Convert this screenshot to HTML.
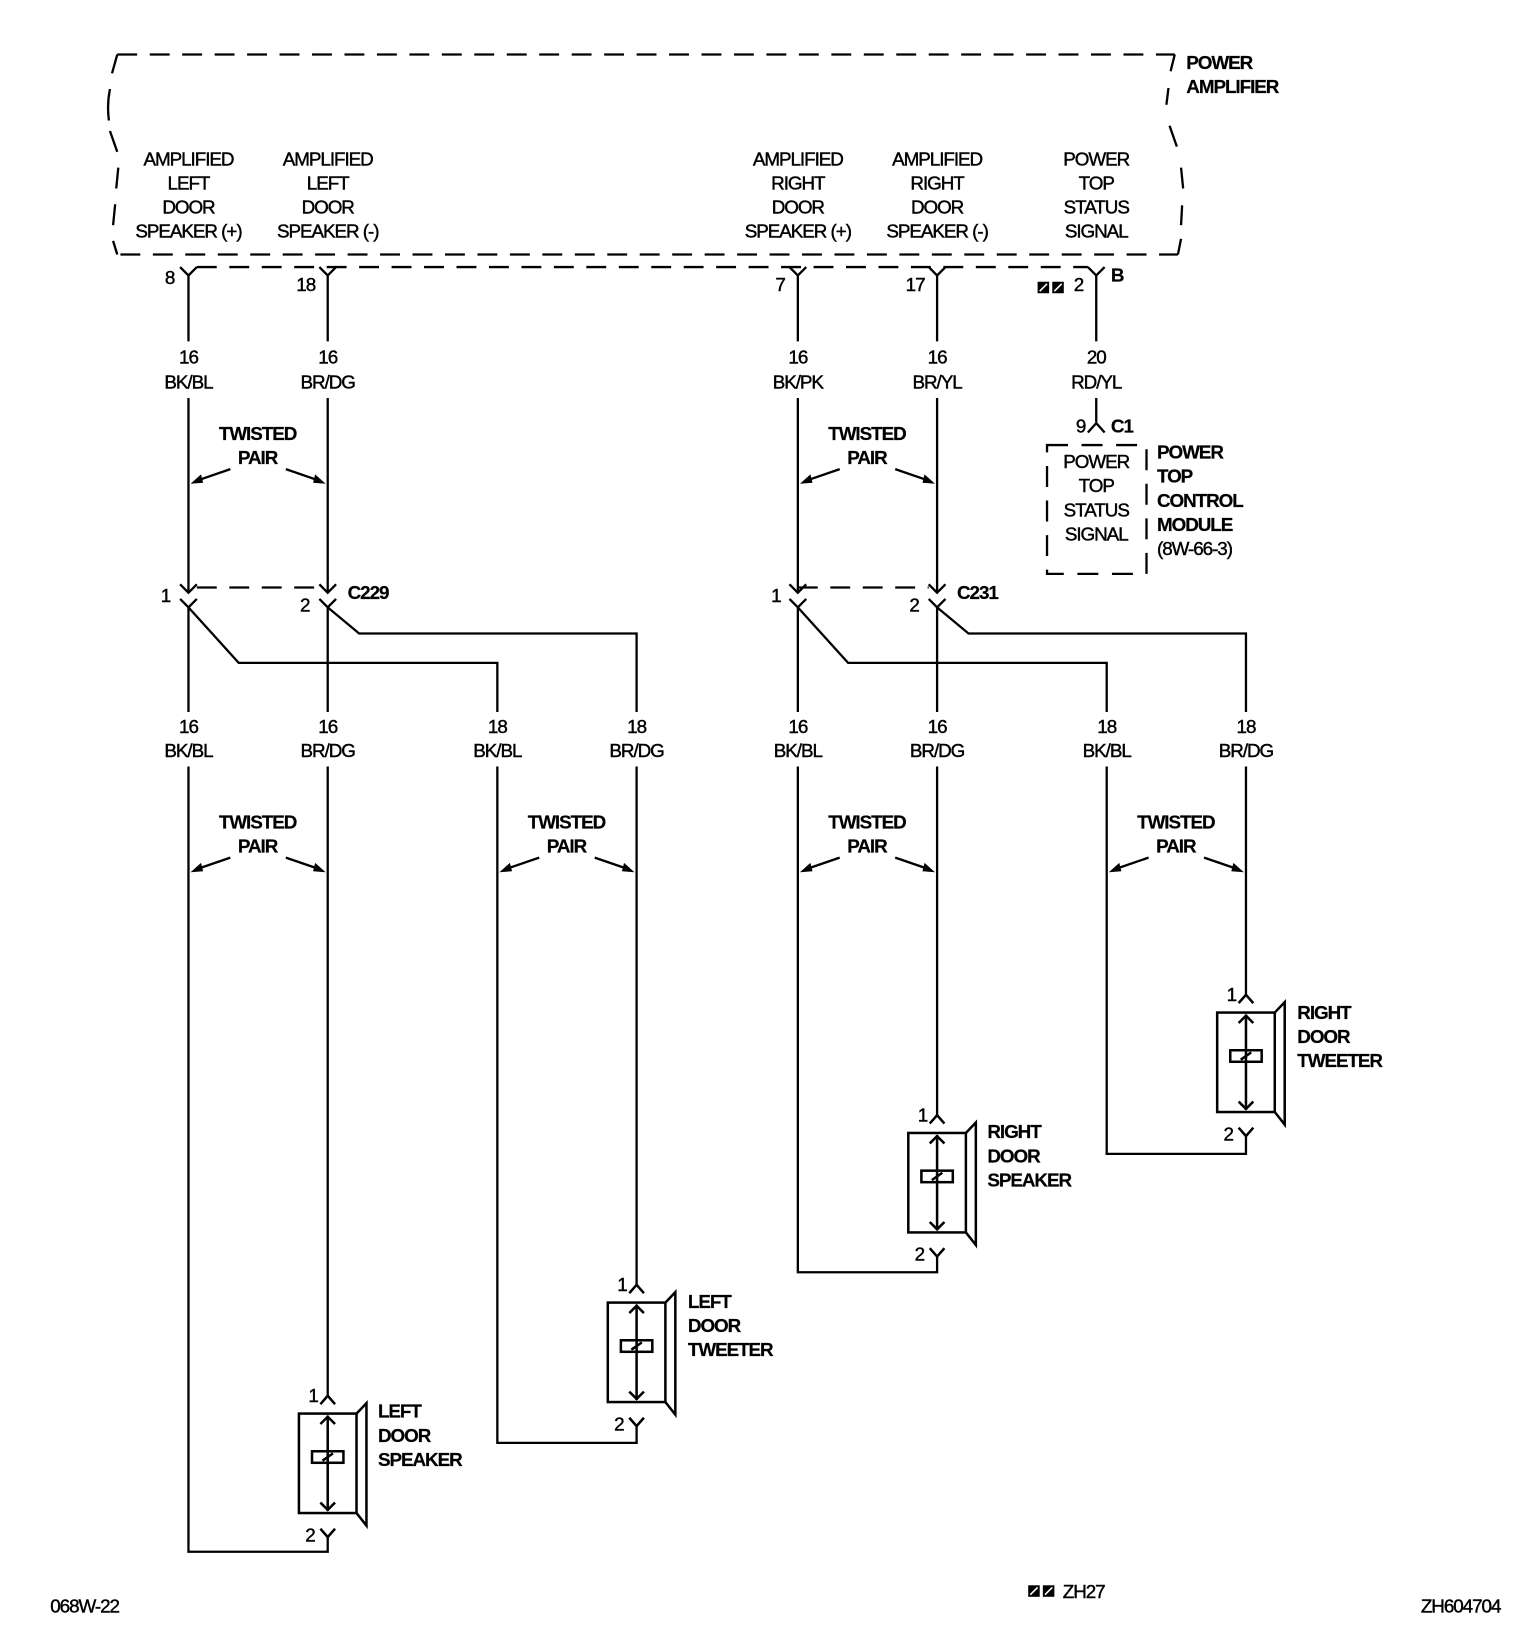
<!DOCTYPE html>
<html><head><meta charset="utf-8"><style>
html,body{margin:0;padding:0;background:#fff}
svg{display:block}
text{font-family:"Liberation Sans",sans-serif;font-size:18px;letter-spacing:-1px;fill:#000;stroke:#000;stroke-width:0.4px;text-anchor:middle}
.b{font-weight:bold;stroke-width:0.2px}
.l{text-anchor:start}
</style></head><body>
<svg width="1536" height="1644" viewBox="0 0 1467 1570" xmlns="http://www.w3.org/2000/svg">
<defs>
<g id="spk" fill="none" stroke="#000" stroke-width="2.4">
<polyline points="-7,8 0,0 7,8"/>
<rect x="-27.5" y="17" width="55" height="95"/>
<polyline points="27.5,17 37,7 37,124 27.5,112"/>
<line x1="0" y1="19" x2="0" y2="110"/>
<polyline points="-7,27 0,20 7,27"/>
<polyline points="-7,102 0,109 7,102"/>
<rect x="-15" y="53" width="30" height="11"/>
<line x1="-5" y1="62" x2="5" y2="55"/>
<polyline points="-7,127 0,135 7,127"/>
</g>
<g id="tp">
<text class="b" x="66" y="-42">TWISTED</text>
<text class="b" x="66" y="-19">PAIR</text>
<line x1="40" y1="-14" x2="8" y2="-3" stroke="#000" stroke-width="2.2"/>
<polygon points="2,0 12,-9 14,-1" fill="#000"/>
<line x1="93" y1="-14" x2="125" y2="-3" stroke="#000" stroke-width="2.2"/>
<polygon points="131,0 121,-9 119,-1" fill="#000"/>
</g>
<g id="cx" fill="none" stroke="#000" stroke-width="2.2">
<polyline points="-8,-8 0,0 8,-8"/>
<polyline points="-8,6 0,14 8,6"/>
</g>
<g id="yf" fill="none" stroke="#000" stroke-width="2.2">
<polyline points="-8,0 0,8 8,0"/>
</g>
</defs>

<g fill="none" stroke="#000" stroke-width="2.2">
<line x1="112" y1="52" x2="1122" y2="52" stroke-dasharray="19,12"/>
<line x1="115" y1="243" x2="1125" y2="243" stroke-dasharray="19,12"/>
<path d="M112,52 L107,70 M105,85 Q102,100 104,115 M105,125 L112,145 M113,160 L111,180 M110,195 L108,215 M108,230 L112,243"/>
<path d="M1122,52 L1118,68 M1116,84 L1114,100 M1117,120 L1124,140 M1128,160 L1130,180 M1129,196 L1128,215 M1128,228 L1125,243"/>
<line x1="188" y1="255" x2="1039" y2="255" stroke-dasharray="19,12"/>
</g>
<text class="b l" x="1133" y="66">POWER</text>
<text class="b l" x="1133" y="89">AMPLIFIER</text>

<g>
<text x="180" y="158">AMPLIFIED</text><text x="180" y="181">LEFT</text><text x="180" y="204">DOOR</text><text x="180" y="227">SPEAKER (+)</text>
<text x="313" y="158">AMPLIFIED</text><text x="313" y="181">LEFT</text><text x="313" y="204">DOOR</text><text x="313" y="227">SPEAKER (-)</text>
<text x="762" y="158">AMPLIFIED</text><text x="762" y="181">RIGHT</text><text x="762" y="204">DOOR</text><text x="762" y="227">SPEAKER (+)</text>
<text x="895" y="158">AMPLIFIED</text><text x="895" y="181">RIGHT</text><text x="895" y="204">DOOR</text><text x="895" y="227">SPEAKER (-)</text>
<text x="1047" y="158">POWER</text><text x="1047" y="181">TOP</text><text x="1047" y="204">STATUS</text><text x="1047" y="227">SIGNAL</text>
</g>

<use href="#yf" x="180" y="255"/><use href="#yf" x="313" y="255"/><use href="#yf" x="762" y="255"/><use href="#yf" x="895" y="255"/><use href="#yf" x="1047" y="255"/>
<text x="162" y="271">8</text><text x="292" y="278">18</text><text x="745" y="278">7</text><text x="874" y="278">17</text>
<text x="1030" y="278">2</text><text class="b l" x="1061" y="269">B</text>
<g fill="#000"><rect x="991" y="269" width="11" height="11"/><rect x="1005" y="269" width="11" height="11"/></g>
<g stroke="#fff" stroke-width="1.5"><line x1="993" y1="278" x2="1000" y2="271"/><line x1="1007" y1="278" x2="1014" y2="271"/></g>

<g fill="none" stroke="#000" stroke-width="2.2">
<line x1="180" y1="263" x2="180" y2="326"/><line x1="180" y1="380" x2="180" y2="566"/>
<line x1="313" y1="263" x2="313" y2="326"/><line x1="313" y1="380" x2="313" y2="566"/>
<line x1="762" y1="263" x2="762" y2="326"/><line x1="762" y1="380" x2="762" y2="566"/>
<line x1="895" y1="263" x2="895" y2="326"/><line x1="895" y1="380" x2="895" y2="566"/>
<line x1="1047" y1="263" x2="1047" y2="326"/><line x1="1047" y1="380" x2="1047" y2="403"/>
<polyline points="1039,413 1047,404 1055,413"/>
<rect x="1000" y="425" width="95" height="123" stroke-dasharray="20,13"/>
<line x1="188" y1="561" x2="305" y2="561" stroke-dasharray="19,12"/>
<line x1="762" y1="561" x2="887" y2="561" stroke-dasharray="19,12"/>
<line x1="180" y1="580" x2="180" y2="680"/><polyline points="180,580 228,633 475,633 475,680"/>
<line x1="313" y1="580" x2="313" y2="680"/><polyline points="313,580 343,605 608,605 608,680"/>
<line x1="762" y1="580" x2="762" y2="680"/><polyline points="762,580 810,633 1057,633 1057,680"/>
<line x1="895" y1="580" x2="895" y2="680"/><polyline points="895,580 925,605 1190,605 1190,680"/>
<polyline points="313,732 313,1333"/>
<polyline points="313,1468 313,1482 180,1482 180,732"/>
<polyline points="608,732 608,1227"/>
<polyline points="608,1362 608,1378 475,1378 475,732"/>
<polyline points="895,732 895,1065"/>
<polyline points="895,1200 895,1215 762,1215 762,732"/>
<polyline points="1190,732 1190,950"/>
<polyline points="1190,1085 1190,1102 1057,1102 1057,732"/>
</g>
<use href="#cx" x="180" y="566"/><use href="#cx" x="313" y="566"/><use href="#cx" x="762" y="566"/><use href="#cx" x="895" y="566"/>
<text x="158" y="575">1</text><text x="291" y="584">2</text><text class="b l" x="332" y="572">C229</text>
<text x="741" y="575">1</text><text x="873" y="584">2</text><text class="b l" x="914" y="572">C231</text>

<text x="180" y="347">16</text><text x="180" y="371">BK/BL</text>
<text x="313" y="347">16</text><text x="313" y="371">BR/DG</text>
<text x="762" y="347">16</text><text x="762" y="371">BK/PK</text>
<text x="895" y="347">16</text><text x="895" y="371">BR/YL</text>
<text x="1047" y="347">20</text><text x="1047" y="371">RD/YL</text>
<text x="180" y="700">16</text><text x="180" y="723">BK/BL</text>
<text x="313" y="700">16</text><text x="313" y="723">BR/DG</text>
<text x="475" y="700">18</text><text x="475" y="723">BK/BL</text>
<text x="608" y="700">18</text><text x="608" y="723">BR/DG</text>
<text x="762" y="700">16</text><text x="762" y="723">BK/BL</text>
<text x="895" y="700">16</text><text x="895" y="723">BR/DG</text>
<text x="1057" y="700">18</text><text x="1057" y="723">BK/BL</text>
<text x="1190" y="700">18</text><text x="1190" y="723">BR/DG</text>

<use href="#tp" x="180" y="462"/><use href="#tp" x="762" y="462"/>
<use href="#tp" x="180" y="833"/><use href="#tp" x="475" y="833"/><use href="#tp" x="762" y="833"/><use href="#tp" x="1057" y="833"/>

<text x="1032" y="413">9</text><text class="b l" x="1061" y="413">C1</text>
<text x="1047" y="447">POWER</text><text x="1047" y="470">TOP</text><text x="1047" y="493">STATUS</text><text x="1047" y="516">SIGNAL</text>
<text class="b l" x="1105" y="438">POWER</text><text class="b l" x="1105" y="461">TOP</text><text class="b l" x="1105" y="484">CONTROL</text><text class="b l" x="1105" y="507">MODULE</text><text class="l" x="1105" y="530">(8W-66-3)</text>

<use href="#spk" x="313" y="1333"/>
<text x="299" y="1339">1</text><text x="296" y="1472">2</text>
<text class="b l" x="361" y="1354">LEFT</text><text class="b l" x="361" y="1377">DOOR</text><text class="b l" x="361" y="1400">SPEAKER</text>

<use href="#spk" x="608" y="1227"/>
<text x="594" y="1233">1</text><text x="591" y="1366">2</text>
<text class="b l" x="657" y="1249">LEFT</text><text class="b l" x="657" y="1272">DOOR</text><text class="b l" x="657" y="1295">TWEETER</text>

<use href="#spk" x="895" y="1065"/>
<text x="881" y="1071">1</text><text x="878" y="1204">2</text>
<text class="b l" x="943" y="1087">RIGHT</text><text class="b l" x="943" y="1110">DOOR</text><text class="b l" x="943" y="1133">SPEAKER</text>

<use href="#spk" x="1190" y="950"/>
<text x="1176" y="956">1</text><text x="1173" y="1089">2</text>
<text class="b l" x="1239" y="973">RIGHT</text><text class="b l" x="1239" y="996">DOOR</text><text class="b l" x="1239" y="1019">TWEETER</text>

<text class="l" x="48" y="1540">068W-22</text>
<g fill="#000"><rect x="982" y="1514" width="11" height="11"/><rect x="996" y="1514" width="11" height="11"/></g>
<g stroke="#fff" stroke-width="1.5"><line x1="984" y1="1523" x2="991" y2="1516"/><line x1="998" y1="1523" x2="1005" y2="1516"/></g>
<text class="l" x="1015" y="1526">ZH27</text>
<text class="l" x="1357" y="1540">ZH604704</text>
</svg>
</body></html>
